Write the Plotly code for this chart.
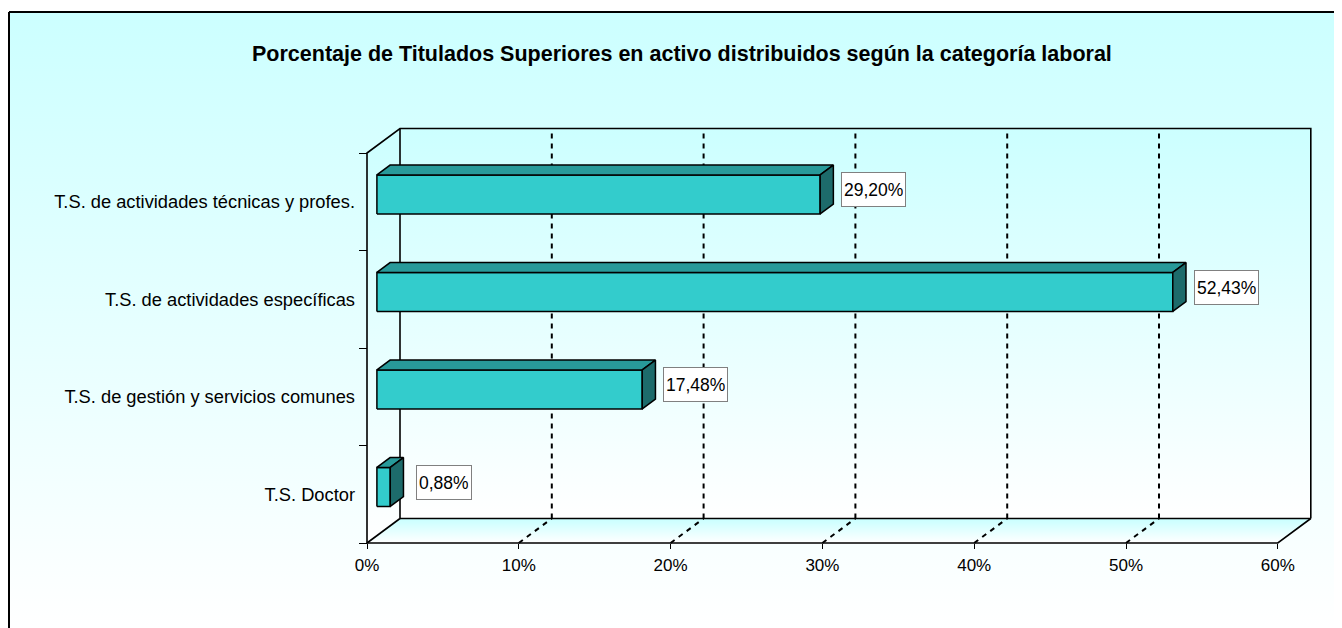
import plotly.graph_objects as go

# ---------------- data ----------------
categories = [
    "T.S. Doctor",
    "T.S. de gestión y servicios comunes",
    "T.S. de actividades específicas",
    "T.S. de actividades técnicas y profes.",
]
values = [0.88, 17.48, 52.43, 29.20]
value_labels = ["0,88%", "17,48%", "52,43%", "29,20%"]
x_ticks = [0, 10, 20, 30, 40, 50, 60]
x_tick_labels = ["0%", "10%", "20%", "30%", "40%", "50%", "60%"]
title_text = "Porcentaje de Titulados Superiores en activo distribuidos según la categoría laboral"

# ---------------- layout constants ----------------
# the page body adds an 8px margin, so the figure is 8px smaller and shifted
W, H = 1334, 620
ORIGIN_PX, ORIGIN_PY = 359, 535      # front-bottom-left corner in figure pixels
PX = 15.18                            # pixels per percent
PY = 97.5                             # pixels per category band
XMAX = 60
NCAT = len(categories)
X0, X1 = -ORIGIN_PX / PX, (W - ORIGIN_PX) / PX
Y0, Y1 = -(H - ORIGIN_PY) / PY, ORIGIN_PY / PY
DX, DY = 33 / PX, 24.5 / PY            # depth offset of the 3-D box
D0, D1 = 0.3, 0.7                      # bar depth (fraction of box depth)
BAR_LO, BAR_HI = 0.3, 0.7              # bar thickness within a band

FRONT = "#33CCCC"
TOP = "#289A9A"
SIDE = "#1D6B6B"
CYAN = "#CCFFFF"
FONT = "Arial, Liberation Sans"

fig = go.Figure()


def poly(xs, ys, **kw):
    fig.add_trace(go.Scatter(x=xs + [xs[0]], y=ys + [ys[0]], mode="lines",
                             fill="toself", hoverinfo="skip", showlegend=False, **kw))


# chart-area background with vertical gradient
bx0 = (1 - ORIGIN_PX) / PX
by1 = (ORIGIN_PY - 4) / PY
poly([bx0, X1, X1, bx0], [Y0, Y0, by1, by1], line=dict(width=0),
     fillgradient=dict(type="vertical", colorscale=[[0, "#FFFFFF"], [1, CYAN]]))

# walls and floor
wall_grad = dict(type="vertical", colorscale=[[0, "#FFFFFF"], [1, CYAN]])
poly([DX, XMAX + DX, XMAX + DX, DX], [DY, DY, NCAT + DY, NCAT + DY],
     line=dict(width=0), fillgradient=wall_grad)
poly([0, DX, DX, 0], [0, DY, NCAT + DY, NCAT], line=dict(width=0), fillgradient=wall_grad)
poly([0, XMAX, XMAX + DX, DX], [0, 0, DY, DY], line=dict(width=0),
     fillgradient=dict(type="vertical", colorscale=[[0, "#FFFFFF"], [1, "#C8FFFF"]]))

# dashed gridlines (back wall + floor)
gx, gy = [], []
for t in x_ticks[1:-1]:
    gx += [t + DX, t + DX, None, t, t + DX, None]
    gy += [DY, NCAT + DY, None, 0, DY, None]
fig.add_trace(go.Scatter(x=gx, y=gy, mode="lines", hoverinfo="skip", showlegend=False,
                         line=dict(color="black", width=2, dash="5px,5px")))

# box edges
ex = [0, 0, DX, XMAX + DX, XMAX + DX, None,
      DX, DX, None,
      DX, XMAX + DX, None,
      0, XMAX, XMAX + DX, None,
      0, DX]
ey = [0, NCAT, NCAT + DY, NCAT + DY, DY, None,
      DY, NCAT + DY, None,
      DY, DY, None,
      0, 0, DY, None,
      0, DY]
fig.add_trace(go.Scatter(x=ex, y=ey, mode="lines", hoverinfo="skip", showlegend=False,
                         line=dict(color="black", width=1.6)))

# 3-D bars
edge = dict(color="black", width=1.5)
for i, v in enumerate(values):
    lo, hi = i + BAR_LO, i + BAR_HI
    fx0, fx1 = D0 * DX, v + D0 * DX
    bx_0, bx_1 = D1 * DX, v + D1 * DX
    fy = D0 * DY
    by = D1 * DY
    # front face
    poly([fx0, fx1, fx1, fx0], [lo + fy, lo + fy, hi + fy, hi + fy],
         fillcolor=FRONT, line=edge)
    # top face
    poly([fx0, fx1, bx_1, bx_0], [hi + fy, hi + fy, hi + by, hi + by],
         fillcolor=TOP, line=edge)
    # side face
    poly([fx1, bx_1, bx_1, fx1], [lo + fy, lo + by, hi + by, hi + fy],
         fillcolor=SIDE, line=edge)

# data labels
for i, (v, lab) in enumerate(zip(values, value_labels)):
    fig.add_annotation(x=v + 0.5 * DX, y=i + 0.5 + 0.5 * DY, text=lab,
                       showarrow=False, xanchor="center", yanchor="middle", xshift=47,
                       font=dict(family=FONT, size=17.5, color="black"),
                       bgcolor="white", bordercolor="#808080", borderwidth=1,
                       borderpad=2, height=29)

# title
fig.add_annotation(x=673.5 / W, y=(H - 46) / H, xref="paper", yref="paper",
                   text="<b>" + title_text + "</b>", showarrow=False,
                   xanchor="center", yanchor="middle",
                   font=dict(family=FONT, size=21.5, color="black"))

# outer frame (left and top)
fig.add_shape(type="line", xref="paper", yref="paper", x0=1 / W, x1=1 / W, y0=0,
              y1=(H - 4) / H, line=dict(color="black", width=2))
fig.add_shape(type="line", xref="paper", yref="paper", x0=1 / W, x1=1, y0=(H - 4) / H,
              y1=(H - 4) / H, line=dict(color="black", width=2))

fig.update_layout(
    width=W, height=H,
    margin=dict(l=0, r=0, t=0, b=0),
    paper_bgcolor="white", plot_bgcolor="white",
    showlegend=False,
    xaxis=dict(range=[X0, X1], domain=[0, 1], anchor="free",
               position=(H - ORIGIN_PY) / H,
               showgrid=False, zeroline=False, showline=False,
               tickmode="array", tickvals=x_ticks, ticktext=x_tick_labels,
               ticks="outside", ticklen=5, tickwidth=1, tickcolor="black",
               ticklabelstandoff=2,
               tickfont=dict(family=FONT, size=17, color="black"),
               fixedrange=True),
    yaxis=dict(range=[Y0, Y1], domain=[0, 1], anchor="free",
               position=ORIGIN_PX / W,
               showgrid=False, zeroline=False, showline=False,
               tickmode="array", tickvals=[i + 0.5 for i in range(NCAT)],
               ticktext=categories, ticks="", ticklabelstandoff=12,
               minor=dict(tickmode="array", tickvals=list(range(NCAT + 1)),
                          ticks="outside", ticklen=8, tickwidth=1, tickcolor="black",
                          showgrid=False),
               tickfont=dict(family=FONT, size=18.3, color="black"),
               fixedrange=True),
)

fig.write_html("out.html")
